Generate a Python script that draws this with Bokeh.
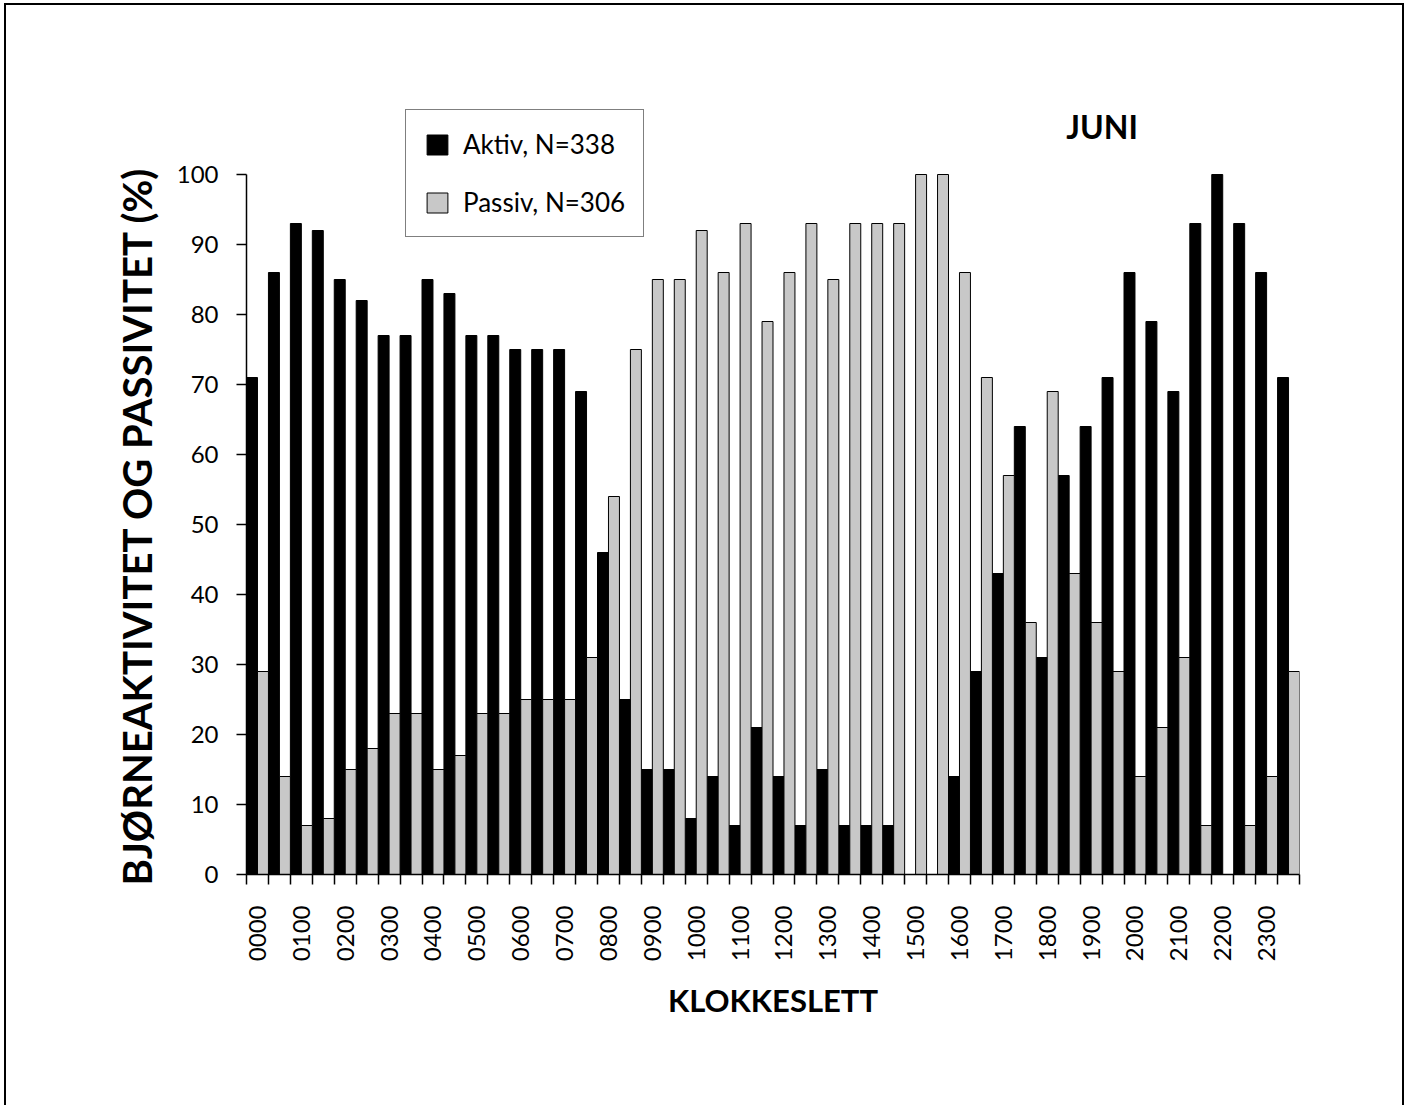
import math
from bokeh.plotting import figure
from bokeh.models import FixedTicker, Legend, LegendItem, Label, Range1d, ColumnDataSource, Title
from bokeh.embed import file_html
from bokeh.resources import INLINE

# ---- data: 48 half-hour slots ----
slot_labels = ["0000", "0100", "0200", "0300", "0400", "0500", "0600", "0700",
               "0800", "0900", "1000", "1100", "1200", "1300", "1400", "1500",
               "1600", "1700", "1800", "1900", "2000", "2100", "2200", "2300"]
aktiv = [71, 86, 93, 92, 85, 82, 77, 77, 85, 83, 77, 77, 75, 75, 75, 69,
         46, 25, 15, 15, 8, 14, 7, 21, 14, 7, 15, 7, 7, 7, 0, 0,
         14, 29, 43, 64, 31, 57, 64, 71, 86, 79, 69, 93, 100, 93, 86, 71]
passiv = [29, 14, 7, 8, 15, 18, 23, 23, 15, 17, 23, 23, 25, 25, 25, 31,
          54, 75, 85, 85, 92, 86, 93, 79, 86, 93, 85, 93, 93, 93, 100, 100,
          86, 71, 57, 36, 69, 43, 36, 29, 14, 21, 31, 7, 0, 7, 14, 29]
aktiv_label = "Aktiv, N=338"
passiv_label = "Passiv, N=306"
month = "JUNI"
y_title = "BJØRNEAKTIVITET OG PASSIVITET (%)"
x_title = "KLOKKESLETT"

n = len(aktiv)
idx = list(range(n))

W, H = 1404, 1105
p = figure(width=W, height=H, output_backend="svg", toolbar_location=None,
           x_range=Range1d(0, n), y_range=Range1d(0, 778 / 7),
           min_border_left=246, min_border_right=105,
           min_border_top=96, min_border_bottom=231)
p.outline_line_color = None
p.xgrid.visible = False
p.ygrid.visible = False
p.background_fill_color = "white"
p.border_fill_alpha = 0
p.styles = {"box-shadow": "inset 4px 3px 0 0 white, inset 6px 5px 0 0 black, inset -2px 0 0 0 black",
            "background-color": "white"}

src = ColumnDataSource(dict(
    xa=[i + 0.25 for i in idx], xp=[i + 0.75 for i in idx],
    aktiv=aktiv, passiv=passiv))

r_a = p.vbar(x="xa", top="aktiv", bottom=0, width=0.5, source=src,
             fill_color="black", line_color="black", line_width=1)
r_p = p.vbar(x="xp", top="passiv", bottom=0, width=0.5, source=src,
             fill_color="#c8c8c8", line_color="black", line_width=1)

FONT = "Lato"

# x axis: labels at hour-slot centres, ticks at every slot boundary
xa = p.xaxis[0]
centers = [2 * k + 0.5 for k in range(len(slot_labels))]
xa.ticker = FixedTicker(ticks=centers, minor_ticks=list(range(n + 1)))
xa.major_label_overrides = {c: lab for c, lab in zip(centers, slot_labels)}
xa.major_label_orientation = math.pi / 2
xa.major_tick_out = 0
xa.major_tick_in = 0
xa.minor_tick_out = 10
xa.minor_tick_in = 0
xa.minor_tick_line_color = "black"
xa.minor_tick_line_width = 1.5
xa.axis_line_width = 1.5
xa.major_label_standoff = 21
xa.major_label_text_font = FONT
xa.major_label_text_font_size = "24px"
xa.major_label_text_color = "black"
xa.axis_label = x_title
xa.axis_label_text_font = FONT
xa.axis_label_text_font_style = "bold"
xa.axis_label_text_font_size = "31px"
xa.axis_label_text_color = "black"
xa.axis_label_standoff = 17

ya = p.yaxis[0]
ya.ticker = FixedTicker(ticks=list(range(0, 101, 10)), minor_ticks=[])
ya.bounds = (0, 100)
ya.major_tick_out = 10
ya.major_tick_in = 0
ya.major_tick_line_width = 1.5
ya.axis_line_width = 1.5
ya.major_label_standoff = 18
ya.major_label_text_font = FONT
ya.major_label_text_font_size = "24px"
ya.major_label_text_color = "black"

# y axis title as a left-side title, so it can be centred on the 0-100 span
p.add_layout(Title(text=y_title, align="left", offset=-11, standoff=26,
                   text_font=FONT, text_font_style="bold",
                   text_font_size="40px", text_color="black"), "left")

legend = Legend(items=[LegendItem(label=aktiv_label, renderers=[r_a]),
                       LegendItem(label=passiv_label, renderers=[r_p])],
                location=(159, 637), orientation="vertical",
                glyph_width=26, glyph_height=25, padding=18, spacing=26,
                label_standoff=13, label_text_font=FONT,
                label_text_font_size="26px", label_text_color="black",
                border_line_color="black", border_line_width=1.5,
                background_fill_color="white", background_fill_alpha=1,
                margin=0)
p.add_layout(legend, "center")

p.add_layout(Label(x=39.0, y=106.8, text=month, text_font=FONT,
                   text_font_style="bold", text_font_size="32px",
                   text_align="center", text_baseline="middle",
                   text_color="black"))

open("out.html", "w").write(file_html(p, INLINE))
